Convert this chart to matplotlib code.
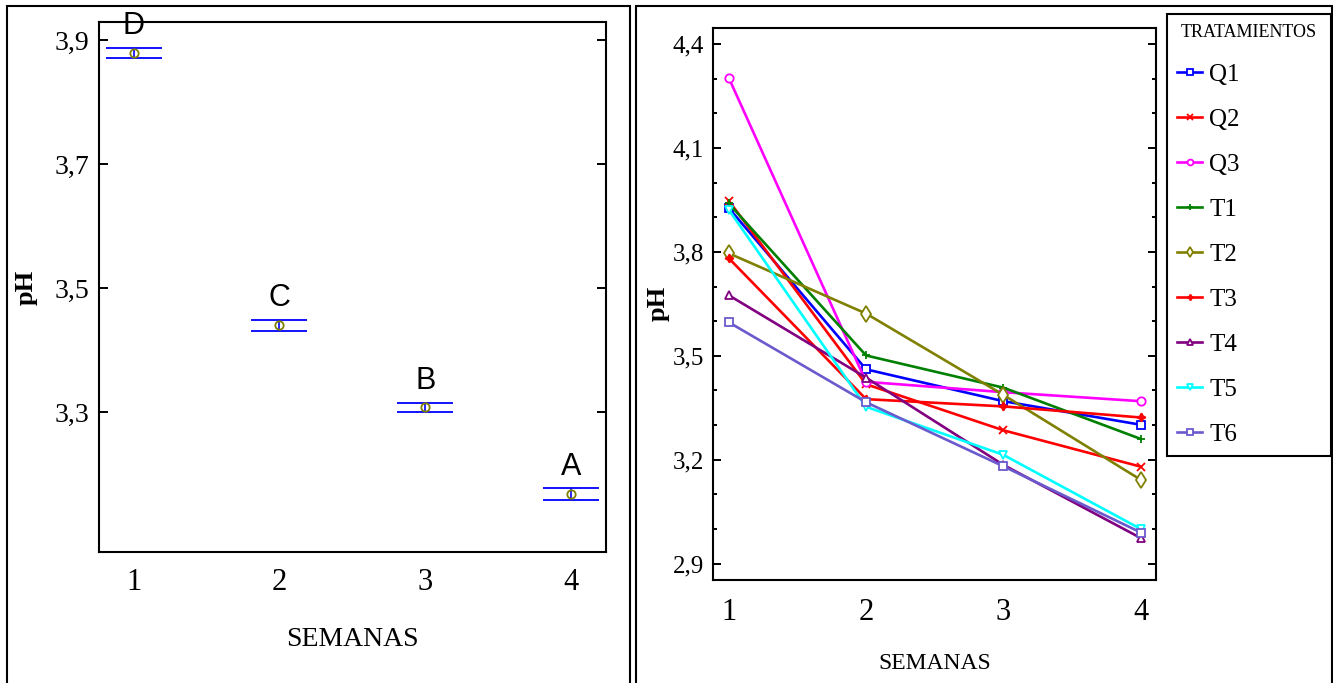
import numpy as np
import matplotlib.pyplot as plt
from matplotlib.patches import Rectangle
from matplotlib.ticker import MultipleLocator

plt.rcParams['font.family'] = ['Liberation Serif', 'DejaVu Serif']

# datos panel izquierdo (medias por semana con intervalo)
semanas = [1, 2, 3, 4]
medias = [3.879, 3.440, 3.308, 3.168]
errores = [0.0075, 0.0092, 0.0077, 0.0092]
letras = ['D', 'C', 'B', 'A']

# datos panel derecho (pH por tratamiento)
tratamientos = ['Q1', 'Q2', 'Q3', 'T1', 'T2', 'T3', 'T4', 'T5', 'T6']
Q1 = [3.927, 3.461, 3.369, 3.301]
Q2 = [3.948, 3.418, 3.285, 3.180]
Q3 = [4.303, 3.425, 3.395, 3.369]
T1 = [3.940, 3.501, 3.408, 3.260]
T2 = [3.796, 3.622, 3.387, 3.142]
T3 = [3.782, 3.375, 3.354, 3.322]
T4 = [3.675, 3.437, 3.185, 2.974]
T5 = [3.922, 3.353, 3.214, 3.000]
T6 = [3.597, 3.366, 3.181, 2.990]
series = [Q1, Q2, Q3, T1, T2, T3, T4, T5, T6]

colores = ['#0000ff', '#ff0000', '#ff00ff', '#008000', '#808000',
           '#ff0000', '#800080', '#00ffff', '#6a5acd']
marcadores = ['s', 'x', 'o', '+', 'd', (4, 1, 0), '^', 'v', 's']
huecos = [True, False, True, False, True, False, True, True, True]

W, H = 1333, 683
fig = plt.figure(figsize=(W / 100, H / 100), dpi=100)

# marcos de los dos paneles
fig.add_artist(Rectangle((7 / W, -0.05), (630 - 7) / W, 1 - 6 / H + 0.05,
                         transform=fig.transFigure, fill=False, ec='black', lw=1.5))
fig.add_artist(Rectangle((636 / W, -0.05), (1331.5 - 636) / W, 1 - 6 / H + 0.05,
                         transform=fig.transFigure, fill=False, ec='black', lw=1.5))

# ---- panel izquierdo ----
ax1 = fig.add_axes([98.7 / W, (H - 551.7) / H, (606 - 98.7) / W, (551.7 - 22.3) / H])
ax1.errorbar(semanas, medias, yerr=errores, fmt='o', ms=6, mfc='none', mec='olive',
             mew=1.3, ecolor='blue', elinewidth=1.2, capsize=20, capthick=2.4)
for x, m, e, l in zip(semanas, medias, errores, letras):
    ax1.annotate(l, (x, m + e), xytext=(0, 5), textcoords='offset points',
                 ha='center', va='bottom', fontsize=22,
                 family=['Liberation Sans Narrow', 'Liberation Sans', 'DejaVu Sans'])

ax1.set_xlim(0.76, 4.24)
ax1.set_ylim(3.0753, 3.9285)
yt1 = [3.3, 3.5, 3.7, 3.9]
ax1.set_yticks(yt1)
ax1.set_yticklabels([f'{v:.1f}'.replace('.', ',') for v in yt1])
ax1.set_xticks(semanas)
ax1.tick_params(axis='y', direction='in', length=6.5, width=1.4, right=True,
                labelsize=20, pad=7)
ax1.tick_params(axis='x', length=0, labelsize=22, pad=12)
for s in ax1.spines.values():
    s.set_linewidth(1.5)
ax1.set_xlabel('SEMANAS', fontsize=20)
ax1.xaxis.set_label_coords(0.5, -0.142)
ax1.set_ylabel('pH', fontsize=19, fontweight='bold')
ax1.yaxis.set_label_coords(-0.12, 0.5)

# ---- panel derecho ----
ax2 = fig.add_axes([713 / W, (H - 580) / H, 443 / W, 552.3 / H])
for nombre, vals, c, mk, hueco in zip(tratamientos, series, colores, marcadores, huecos):
    ms = 8 if mk == 'd' else 6
    ax2.plot(semanas, vals, color=c, marker=mk, ms=ms, lw=1.9,
             mfc='white' if hueco else c, mec=c, mew=1.3, label=nombre)

ax2.set_xlim(0.886, 4.11)
ax2.set_ylim(2.853, 4.447)
yt2 = [2.9, 3.2, 3.5, 3.8, 4.1, 4.4]
ax2.set_yticks(yt2)
ax2.set_yticklabels([f'{v:.1f}'.replace('.', ',') for v in yt2])
ax2.yaxis.set_minor_locator(MultipleLocator(0.1))
ax2.set_xticks(semanas)
ax2.tick_params(axis='y', which='major', direction='in', length=5.5, width=1.4,
                right=True, labelsize=18, pad=6.5)
ax2.tick_params(axis='y', which='minor', direction='in', length=3, width=1.4, right=True)
ax2.tick_params(axis='x', length=0, labelsize=22, pad=13)
for s in ax2.spines.values():
    s.set_linewidth(1.5)
ax2.set_xlabel('SEMANAS', fontsize=17)
ax2.xaxis.set_label_coords(0.5, -0.132)
ax2.set_ylabel('pH', fontsize=19, fontweight='bold')
ax2.yaxis.set_label_coords(-0.097, 0.5)

leg = ax2.legend(title='TRATAMIENTOS', loc='upper left',
                 bbox_to_anchor=(1167 / W, 1 - 457 / H, 164 / W, 443 / H),
                 bbox_transform=fig.transFigure, mode='expand', borderaxespad=0,
                 fancybox=False, edgecolor='black', framealpha=1, fontsize=18,
                 title_fontsize=13, handlelength=1.0, handletextpad=0.3,
                 labelspacing=0.9, borderpad=0.4, markerscale=0.7)
leg.get_frame().set_linewidth(1.5)

fig.savefig('out.png', dpi=100)
